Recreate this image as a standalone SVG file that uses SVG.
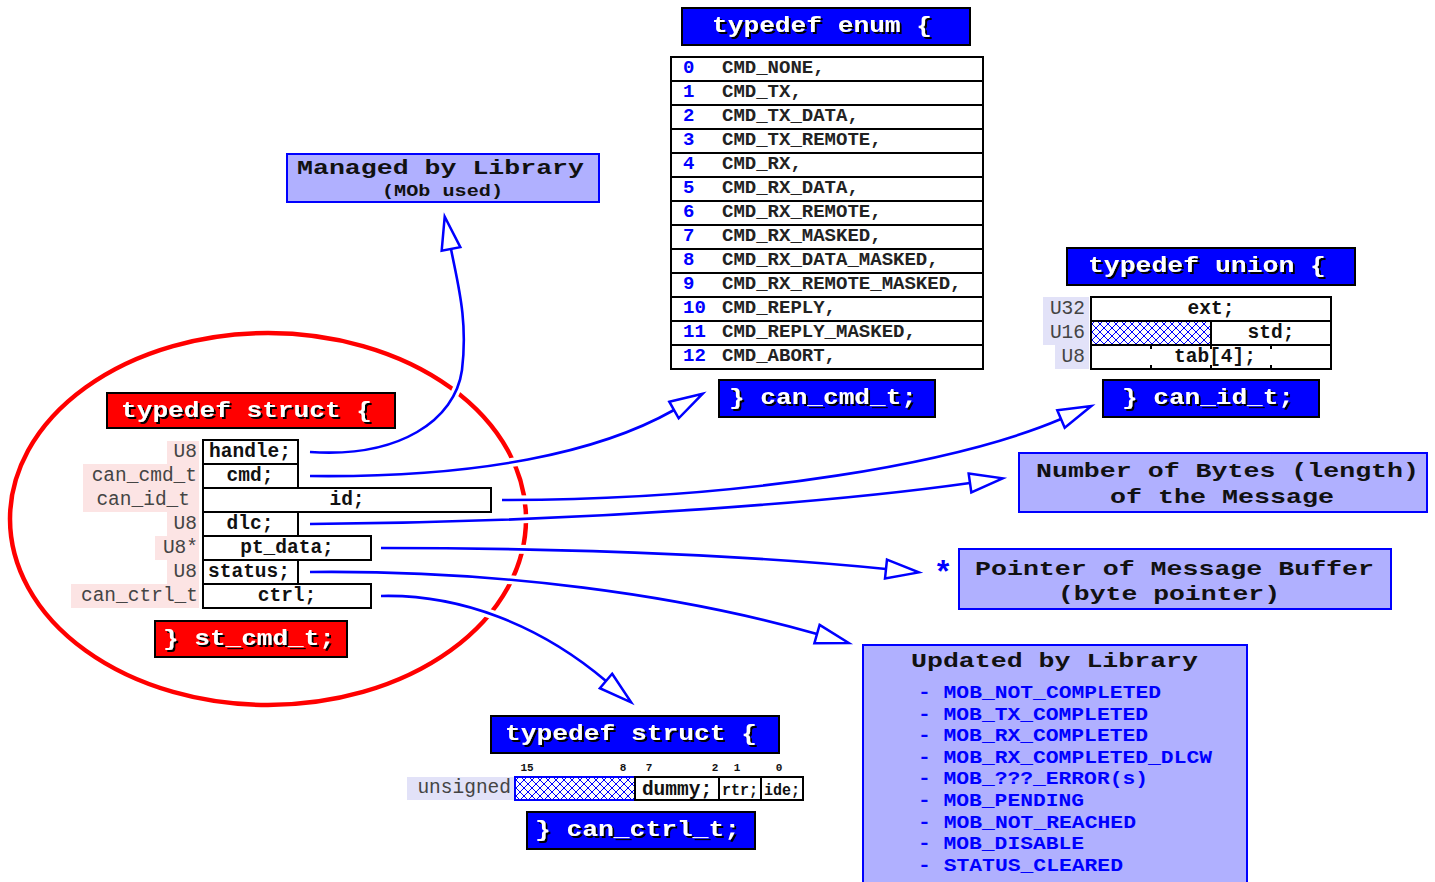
<svg xmlns="http://www.w3.org/2000/svg" width="1435" height="882" viewBox="0 0 1435 882">
<style>
.mono{font-family:"Liberation Mono","DejaVu Sans Mono",monospace}
.hdr{font-family:"Liberation Mono","DejaVu Sans Mono",monospace;font-weight:bold;font-size:22px;fill:#fff;filter:url(#sh)}
.hbr{fill:#f00;stroke:#000;stroke-width:2}
.hbb{fill:#00f;stroke:#000;stroke-width:2}
.cell{fill:#fff;stroke:#000;stroke-width:2}
.fld{font-family:"Liberation Mono","DejaVu Sans Mono",monospace;font-weight:bold;font-size:19.5px;fill:#111;text-anchor:middle}
.typ{font-family:"Liberation Mono","DejaVu Sans Mono",monospace;font-size:19.5px;fill:#444;text-anchor:end}
.pink{fill:#fce4e4}
.lav{fill:#e2e2f8}
.info{fill:#b0b0ff;stroke:#00f;stroke-width:2}
.itxt{font-family:"Liberation Mono","DejaVu Sans Mono",monospace;font-weight:bold;font-size:21px;fill:#111}
.item{font-family:"Liberation Mono","DejaVu Sans Mono",monospace;font-weight:bold;font-size:18px;fill:#00f}
.en{font-family:"Liberation Mono","DejaVu Sans Mono",monospace;font-weight:bold;font-size:19px;fill:#222}
.num{font-family:"Liberation Mono","DejaVu Sans Mono",monospace;font-weight:bold;font-size:19px;fill:#00f}
.bit{font-family:"Liberation Mono","DejaVu Sans Mono",monospace;font-weight:bold;font-size:11px;fill:#111;text-anchor:middle}
.halo{fill:none;stroke:#fff;stroke-width:9}
.wire{fill:none;stroke:#00f;stroke-width:2.6;marker-end:url(#ah)}
.ln{stroke:#000;stroke-width:2}
</style>
<defs>
<filter id="sh" x="-5%" y="-30%" width="110%" height="160%">
<feFlood flood-color="#000"/>
<feComposite in2="SourceAlpha" operator="in"/>
<feOffset dx="1.6" dy="1.6" result="s"/>
<feMerge><feMergeNode in="s"/><feMergeNode in="SourceGraphic"/></feMerge>
</filter>
<pattern id="hatch" patternUnits="userSpaceOnUse" width="8" height="8">
<rect width="8" height="8" fill="#fff"/>
<path d="M0,0 L8,8 M8,0 L0,8" stroke="#00f" stroke-width="1"/>
</pattern>
<marker id="ah" markerUnits="userSpaceOnUse" markerWidth="40" markerHeight="30" refX="1" refY="11" orient="auto" overflow="visible">
<path d="M1,1.5 L34,11 L1,20.5 Z" fill="#fff" stroke="#00f" stroke-width="2.5"/>
</marker>
</defs>
<rect width="1435" height="882" fill="#fff"/>

<ellipse id="scope" cx="268" cy="519" rx="258" ry="186" fill="none" stroke="#f00" stroke-width="4.5"/>

<g id="connectors">
<path class="halo" d="M310,452 C400,458 455,420 462,370 C468,320 458,285 451,249"/>
<path class="halo" d="M310,476 C480,478 600,452 674,410"/>
<path class="halo" d="M502,500 C750,500 960,462 1061,419"/>
<path class="halo" d="M310,524 C600,522 850,500 970,483"/>
<path class="halo" d="M381,548 C600,548 780,558 886,569"/>
<path class="halo" d="M310,572 C500,570 680,595 817,634"/>
<path class="halo" d="M381,596 C460,594 540,625 606,681"/>
<path class="wire" d="M310,452 C400,458 455,420 462,370 C468,320 458,285 451,249"/>
<path class="wire" d="M310,476 C480,478 600,452 674,410"/>
<path class="wire" d="M502,500 C750,500 960,462 1061,419"/>
<path class="wire" d="M310,524 C600,522 850,500 970,483"/>
<path class="wire" d="M381,548 C600,548 780,558 886,569"/>
<path class="wire" d="M310,572 C500,570 680,595 817,634"/>
<path class="wire" d="M381,596 C460,594 540,625 606,681"/>
</g>

<g id="st_cmd_t">
<rect class="hbr" x="107" y="393" width="288" height="35"/>
<text class="hdr" x="121" y="417" textLength="251" lengthAdjust="spacingAndGlyphs">typedef struct {</text>
<rect class="pink" x="167" y="441" width="32" height="23"/>
<rect class="pink" x="83" y="464" width="116" height="48"/>
<rect class="pink" x="167" y="512" width="32" height="24"/>
<rect class="pink" x="155" y="536" width="44" height="24"/>
<rect class="pink" x="167" y="560" width="32" height="24"/>
<rect class="pink" x="71" y="584" width="128" height="24"/>
<text class="typ" x="197" y="457">U8</text>
<text class="typ" x="197" y="481">can_cmd_t</text>
<text class="typ" x="190" y="505">can_id_t</text>
<text class="typ" x="197" y="529">U8</text>
<text class="typ" x="198" y="553">U8*</text>
<text class="typ" x="197" y="577">U8</text>
<text class="typ" x="198" y="601">can_ctrl_t</text>
<rect class="cell" x="203" y="440" width="95" height="24"/>
<rect class="cell" x="203" y="464" width="95" height="24"/>
<rect class="cell" x="203" y="488" width="288" height="24"/>
<rect class="cell" x="203" y="512" width="95" height="24"/>
<rect class="cell" x="203" y="536" width="168" height="24"/>
<rect class="cell" x="203" y="560" width="95" height="24"/>
<rect class="cell" x="203" y="584" width="168" height="24"/>
<text class="fld" x="250" y="457">handle;</text>
<text class="fld" x="250" y="481">cmd;</text>
<text class="fld" x="347" y="505">id;</text>
<text class="fld" x="250" y="529">dlc;</text>
<text class="fld" x="287" y="553">pt_data;</text>
<text class="fld" x="249" y="577">status;</text>
<text class="fld" x="287" y="601">ctrl;</text>
<rect class="hbr" x="155" y="621" width="192" height="36"/>
<text class="hdr" x="163" y="645" textLength="172" lengthAdjust="spacingAndGlyphs">} st_cmd_t;</text>
</g>

<g id="can_cmd_t">
<rect class="hbb" x="682" y="8" width="288" height="37"/>
<text class="hdr" x="712" y="32" textLength="220" lengthAdjust="spacingAndGlyphs">typedef enum {</text>
<rect class="cell" x="671" y="57" width="312" height="312"/>
<path class="ln" d="M671,81H983M671,105H983M671,129H983M671,153H983M671,177H983M671,201H983M671,225H983M671,249H983M671,273H983M671,297H983M671,321H983M671,345H983"/>
<text class="num" x="683" y="73">0</text><text class="en" x="722" y="73">CMD_NONE,</text>
<text class="num" x="683" y="97">1</text><text class="en" x="722" y="97">CMD_TX,</text>
<text class="num" x="683" y="121">2</text><text class="en" x="722" y="121">CMD_TX_DATA,</text>
<text class="num" x="683" y="145">3</text><text class="en" x="722" y="145">CMD_TX_REMOTE,</text>
<text class="num" x="683" y="169">4</text><text class="en" x="722" y="169">CMD_RX,</text>
<text class="num" x="683" y="193">5</text><text class="en" x="722" y="193">CMD_RX_DATA,</text>
<text class="num" x="683" y="217">6</text><text class="en" x="722" y="217">CMD_RX_REMOTE,</text>
<text class="num" x="683" y="241">7</text><text class="en" x="722" y="241">CMD_RX_MASKED,</text>
<text class="num" x="683" y="265">8</text><text class="en" x="722" y="265">CMD_RX_DATA_MASKED,</text>
<text class="num" x="683" y="289">9</text><text class="en" x="722" y="289">CMD_RX_REMOTE_MASKED,</text>
<text class="num" x="683" y="313">10</text><text class="en" x="722" y="313">CMD_REPLY,</text>
<text class="num" x="683" y="337">11</text><text class="en" x="722" y="337">CMD_REPLY_MASKED,</text>
<text class="num" x="683" y="361">12</text><text class="en" x="722" y="361">CMD_ABORT,</text>
<rect class="hbb" x="719" y="380" width="216" height="37"/>
<text class="hdr" x="729" y="404" textLength="188" lengthAdjust="spacingAndGlyphs">} can_cmd_t;</text>
</g>

<g id="can_id_t">
<rect class="hbb" x="1067" y="248" width="288" height="37"/>
<text class="hdr" x="1088" y="272" textLength="238" lengthAdjust="spacingAndGlyphs">typedef union {</text>
<rect class="lav" x="1043" y="297" width="46" height="48"/>
<rect class="lav" x="1055" y="345" width="34" height="24"/>
<text class="typ" x="1085" y="314">U32</text>
<text class="typ" x="1085" y="338">U16</text>
<text class="typ" x="1085" y="362">U8</text>
<rect x="1091" y="321" width="120" height="24" fill="url(#hatch)"/>
<rect x="1091" y="297" width="240" height="72" fill="none" stroke="#000" stroke-width="2"/>
<path class="ln" d="M1091,321H1331M1091,345H1331M1211,321V345M1151,345V349M1211,345V349M1271,345V349M1151,365V369M1211,365V369M1271,365V369"/>
<text class="fld" x="1211" y="314">ext;</text>
<text class="fld" x="1271" y="338">std;</text>
<text class="fld" x="1215" y="362">tab[4];</text>
<rect class="hbb" x="1103" y="380" width="216" height="37"/>
<text class="hdr" x="1122" y="404" textLength="172" lengthAdjust="spacingAndGlyphs">} can_id_t;</text>
</g>

<g id="can_ctrl_t">
<rect class="hbb" x="491" y="716" width="288" height="37"/>
<text class="hdr" x="505" y="740" textLength="252" lengthAdjust="spacingAndGlyphs">typedef struct {</text>
<text class="bit" x="527" y="771">15</text>
<text class="bit" x="623" y="771">8</text>
<text class="bit" x="649" y="771">7</text>
<text class="bit" x="715" y="771">2</text>
<text class="bit" x="737" y="771">1</text>
<text class="bit" x="779" y="771">0</text>
<rect class="lav" x="407" y="777" width="108" height="23"/>
<text class="typ" x="511" y="793">unsigned</text>
<rect x="515" y="777" width="120" height="23" fill="url(#hatch)" stroke="#00f" stroke-width="2"/>
<rect class="cell" x="635" y="777" width="84" height="23"/>
<rect class="cell" x="719" y="777" width="42" height="23"/>
<rect class="cell" x="761" y="777" width="42" height="23"/>
<text class="fld" x="677" y="795">dummy;</text>
<text class="fld" x="740" y="795" style="font-size:17px" textLength="36" lengthAdjust="spacingAndGlyphs">rtr;</text>
<text class="fld" x="782" y="795" style="font-size:17px" textLength="36" lengthAdjust="spacingAndGlyphs">ide;</text>
<rect class="hbb" x="527" y="812" width="228" height="37"/>
<text class="hdr" x="535" y="836" textLength="205" lengthAdjust="spacingAndGlyphs">} can_ctrl_t;</text>
</g>

<g id="managed">
<rect class="info" x="287" y="154" width="312" height="48"/>
<text class="itxt" x="297" y="174" textLength="287" lengthAdjust="spacingAndGlyphs">Managed by Library</text>
<text class="itxt" x="382" y="196" style="font-size:16px" textLength="121" lengthAdjust="spacingAndGlyphs">(MOb used)</text>
</g>

<g id="dlc_info">
<rect class="info" x="1019" y="453" width="408" height="59"/>
<text class="itxt" x="1036" y="477" textLength="383" lengthAdjust="spacingAndGlyphs">Number of Bytes (length)</text>
<text class="itxt" x="1110" y="503" textLength="224" lengthAdjust="spacingAndGlyphs">of the Message</text>
</g>

<g id="ptr_info">
<text class="itxt" x="943" y="583" style="fill:#00f;font-size:32px;text-anchor:middle">*</text>
<rect class="info" x="959" y="549" width="432" height="60"/>
<text class="itxt" x="975" y="575" textLength="399" lengthAdjust="spacingAndGlyphs">Pointer of Message Buffer</text>
<text class="itxt" x="1058" y="600" textLength="222" lengthAdjust="spacingAndGlyphs">(byte pointer)</text>
</g>

<g id="status_info">
<rect class="info" x="863" y="645" width="384" height="250"/>
<text class="itxt" x="911" y="667" textLength="287" lengthAdjust="spacingAndGlyphs">Updated by Library</text>
<text class="item" x="918" y="698" textLength="243" lengthAdjust="spacingAndGlyphs">- MOB_NOT_COMPLETED</text>
<text class="item" x="918" y="719.6" textLength="230" lengthAdjust="spacingAndGlyphs">- MOB_TX_COMPLETED</text>
<text class="item" x="918" y="741.2" textLength="230" lengthAdjust="spacingAndGlyphs">- MOB_RX_COMPLETED</text>
<text class="item" x="918" y="762.8" textLength="294" lengthAdjust="spacingAndGlyphs">- MOB_RX_COMPLETED_DLCW</text>
<text class="item" x="918" y="784.4" textLength="230" lengthAdjust="spacingAndGlyphs">- MOB_???_ERROR(s)</text>
<text class="item" x="918" y="806" textLength="166" lengthAdjust="spacingAndGlyphs">- MOB_PENDING</text>
<text class="item" x="918" y="827.6" textLength="218" lengthAdjust="spacingAndGlyphs">- MOB_NOT_REACHED</text>
<text class="item" x="918" y="849.2" textLength="166" lengthAdjust="spacingAndGlyphs">- MOB_DISABLE</text>
<text class="item" x="918" y="870.8" textLength="205" lengthAdjust="spacingAndGlyphs">- STATUS_CLEARED</text>
</g>
</svg>
